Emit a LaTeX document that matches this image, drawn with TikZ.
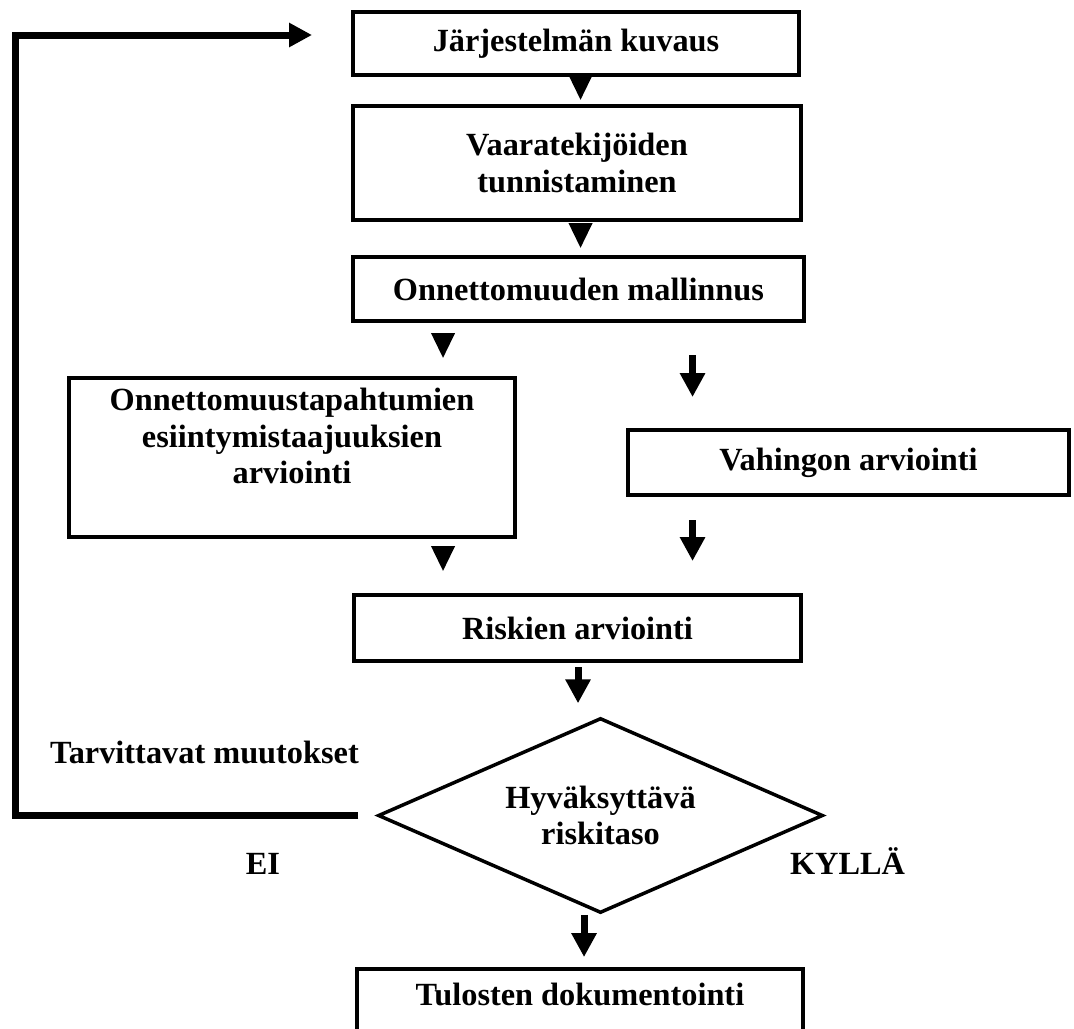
\documentclass[tikz,border=0pt]{standalone}
\usepackage{fontspec}
\setmainfont{Liberation Serif}
\usetikzlibrary{arrows.meta,shapes.geometric}

\begin{document}
\begin{tikzpicture}[scale=0.1]
\tikzstyle{every node}+=[inner sep=0pt, font=\fontsize{9.2}{10.4}\selectfont\bfseries]
\tikzstyle{box}=[draw, line width=0.4mm, align=center]
\tikzstyle{headonly}=[line width=0.4mm, -{Triangle[length=2.5mm,width=2.3mm]}]
\tikzstyle{shaftarrow}=[line width=0.7mm, -{Triangle[length=2.4mm,width=2.4mm]}]
\tikzstyle{feedback}=[line width=0.7mm, -{Triangle[length=2.3mm,width=2.3mm]}]
\useasboundingbox (0,0) rectangle (107.4,-102.8);
% boxes
\node[box, minimum width=44.6mm, minimum height=6.3mm] (sys) at (57.6,-4.35) {Järjestelmän kuvaus};
\node[box, minimum width=44.8mm, minimum height=11.4mm] (haz) at (57.7,-16.3) {Vaaratekijöiden\\tunnistaminen};
\node[box, minimum width=45.1mm, minimum height=6.4mm] (mod) at (57.85,-28.9) {Onnettomuuden mallinnus};
\node[box, minimum width=44.6mm, minimum height=15.9mm] (freq) at (29.2,-45.75) {};
\node[align=center] (freqtxt) at (29.2,-43.6) {Onnettomuustapahtumien\\esiintymistaajuuksien\\arviointi};
\node[box, minimum width=44.1mm, minimum height=6.5mm] (dam) at (84.85,-46.25) {Vahingon arviointi};
\node[box, minimum width=44.7mm, minimum height=6.6mm] (risk) at (57.75,-62.8) {Riskien arviointi};
\node[diamond, draw, line width=0.35mm, aspect=2.3, minimum width=44.5mm, minimum height=19.5mm, align=center] (dec) at (60.05,-81.55) {Hyväksyttävä\\riskitaso};
\node[box, minimum width=44.6mm, anchor=north, text height=3.6mm, text depth=3.7mm] (doc) at (58.0,-96.7) {Tulosten dokumentointi};
% labels
\node[anchor=base] (chg) at (20.45,-76.3) {Tarvittavat muutokset};
\node[anchor=base] (no) at (26.3,-87.4) {EI};
\node[anchor=base] (yes) at (84.75,-87.4) {KYLLÄ};
% arrow columns
\coordinate (colA) at (58.05,0);
\coordinate (colB) at (44.3,0);
\coordinate (colC) at (69.25,0);
\coordinate (colD) at (57.8,0);
\coordinate (colE) at (58.4,0);
\coordinate (fbcorner) at (1.5,-3.5);
% arrows
\draw[headonly, shorten <=0.2mm, shorten >=0.4mm] (sys.south -| colA) -- (haz.north -| colA);
\draw[headonly, shorten <=0.5mm, shorten >=0.7mm] (haz.south -| colA) -- (mod.north -| colA);
\draw[headonly, shorten <=1.4mm, shorten >=1.8mm] (mod.south -| colB) -- (freq.north -| colB);
\draw[headonly, shorten <=1.2mm, shorten >=2.2mm] (freq.south -| colB) -- (risk.north -| colB);
\draw[shaftarrow, shorten <=3.2mm, shorten >=3.1mm] (mod.south -| colC) -- (dam.north -| colC);
\draw[shaftarrow, shorten <=2.3mm, shorten >=3.2mm] (dam.south -| colC) -- (risk.north -| colC);
\draw[shaftarrow, shorten <=0.4mm, shorten >=1.3mm] (risk.south -| colD) -- (dec.north -| colD);
\draw[shaftarrow, shorten >=1mm] (dec.south -| colE) -- (doc.north -| colE);
% back to the start
\draw[feedback, shorten <=1.8mm, shorten >=3.9mm] (dec.west) -| (fbcorner) -- (fbcorner -| sys.west);
\end{tikzpicture}
\end{document}
